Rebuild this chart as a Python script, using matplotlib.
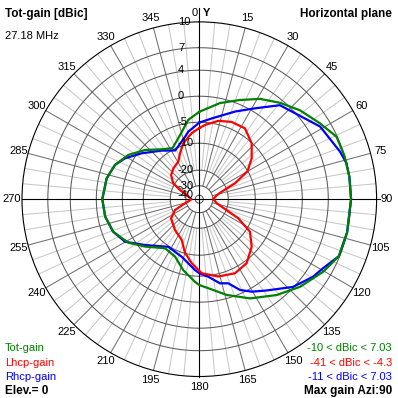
import numpy as np
import matplotlib
matplotlib.use("Agg")
import matplotlib.pyplot as plt
from matplotlib.transforms import offset_copy

# ---------------- data (azimuth in degrees, gain in dBic) ----------------
tot_az = [0, 12.1, 22.3, 31.2, 40, 48.5, 57.8, 65.5, 73.3, 81.6, 90, 102.7, 112.2,
          120.3, 131, 141.1, 152.9, 164, 174.2, 180, 183, 192.7, 202.9, 214.9, 228.8,
          238.5, 249.3, 259.5, 270, 282.7, 292.1, 301.9, 312.2, 323, 332.3, 343.3,
          352.1, 360]
tot_db = [-3.0, -0.9, 0.65, 2.2, 3.5, 4.7, 5.8, 6.9, 7.0, 7.03, 7.03, 7.0, 6.9,
          5.95, 4.6, 3.1, 1.3, -0.65, -2.6, -3.3, -3.9, -6.0, -8.5, -9.1, -6.2,
          -3.8, -2.1, -1.4, -1.15, -1.55, -2.3, -3.7, -5.9, -8.45, -9.6, -7.4,
          -4.4, -3.0]

lhcp_az = [0, 4.4, 13.6, 22.7, 32.8, 43.1, 52, 59.9, 66, 71.5, 76.7, 89.2, 103.3,
           108.5, 116.1, 122.7, 132.2, 143.5, 154.3, 166.2, 178.1, 186.8, 195.2,
           203.3, 218.3, 235.9, 246, 254, 259, 270, 289.5, 295.5, 301.4, 310.5,
           320.1, 330.8, 337.2, 344, 353.4, 360]
lhcp_db = [-6.4, -5.6, -4.3, -3.7, -3.6, -5.1, -7.5, -10.1, -16.3, -23.5, -27.0,
           -29.7, -27.1, -23.5, -14.7, -9.0, -6.5, -4.5, -4.0, -4.5, -5.7, -8.0,
           -10.3, -14.3, -16.2, -18.1, -21.5, -29.1, -32.6, -36.0, -29.6, -24.8,
           -19.4, -17.0, -15.8, -14.8, -12.3, -9.5, -7.5, -6.4]

rhcp_az = [0, 8.7, 22.2, 31.5, 40.6, 59, 71.3, 76.2, 81.6, 90, 102.7, 112.2, 119.1,
           124.3, 133.1, 143.6, 150.5, 155.9, 161, 166.2, 173.4, 180, 183.5, 197,
           213.1, 229.9, 240.2, 249.3, 259.5, 270, 282.7, 292.1, 298.8, 308.6,
           322.2, 333.7, 347.1, 350.7, 360]
rhcp_db = [-5.1, -4.1, -1.6, 0.55, 3.2, 5.6, 6.6, 7.0, 7.03, 7.03, 7.0, 6.9, 5.7,
           5.15, 3.9, 1.6, 0.5, -0.7, -2.7, -3.15, -4.8, -5.7, -6.45, -9.0, -9.8,
           -6.4, -3.35, -2.1, -1.4, -1.15, -1.55, -2.3, -3.5, -5.8, -8.7, -10.6,
           -8.1, -7.05, -5.1]

ring_values = [7, 4, 0, -5, -10, -20, -30, -40]
ring_labels = ["10", "7", "4", "0", "-5", "-10", "-20", "-30", "-40"]
ring_label_values = [10, 7, 4, 0, -5, -10, -20, -30, -40]
angle_ticks = list(range(0, 360, 15))

series_names = ["Tot-gain", "Lhcp-gain", "Rhcp-gain"]
series_ranges = ["-10 < dBic < 7.03", "-41 < dBic < -4.3", "-11 < dBic < 7.03"]

# ---------------- radial (ARRL-like) scale ----------------
SCALE_DB = [-45, -40, -30, -20, -10, -5, 0, 4, 7, 10]
SCALE_PX = [0, 4, 13.5, 29, 56, 77, 103, 129, 151.5, 177.3]


def fwd(d):
    return np.interp(d, SCALE_DB, SCALE_PX)


def inv(r):
    return np.interp(r, SCALE_PX, SCALE_DB)


GREEN, RED, BLUE = "#008000", "#ff0000", "#0000ff"
W = H = 398
CX, CY, R = 199.3, 199.2, 177.3

plt.rcParams["font.family"] = ["Liberation Sans", "DejaVu Sans"]
fig = plt.figure(figsize=(W / 100, H / 100), dpi=100)
fig.patch.set_facecolor("white")
ax = fig.add_axes([(CX - R) / W, (H - CY - R) / H, 2 * R / W, 2 * R / H],
                  projection="polar")
ax.set_rscale("function", functions=(fwd, inv))
ax.set_theta_zero_location("N")
ax.set_theta_direction(-1)
ax.grid(False)
ax.set_xticks([])
ax.set_yticks([])
ax.spines["polar"].set_color("black")
ax.spines["polar"].set_linewidth(0.8)

# rings
th = np.linspace(0, 2 * np.pi, 1441)
for v in ring_values:
    ax.plot(th, np.full_like(th, v), color="#5a5a5a", lw=0.75, zorder=2)

# radial lines
for a in range(0, 360, 5):
    if a % 90 == 0:
        continue
    t = np.deg2rad(a)
    if a % 15 == 0:
        ax.plot([t, t], [-30, 10], color="#707070", lw=0.75, zorder=1.5)
    else:
        ax.plot([t, t], [-20, 10], color="#c8c8c8", lw=0.75, zorder=1)

# main axis lines (black)
ax.plot([0.5, 0.5], [0.0, 0.5 + (CY - 8) / (2 * R)], transform=ax.transAxes,
        color="black", lw=0.8, clip_on=False, zorder=3)
ax.plot([0.0, 0.5 + (380 - CX) / (2 * R)], [0.5, 0.5], transform=ax.transAxes,
        color="black", lw=0.8, clip_on=False, zorder=3)

# curves
ax.plot(np.deg2rad(rhcp_az), rhcp_db, color=BLUE, lw=1.6, zorder=5)
ax.plot(np.deg2rad(tot_az), tot_db, color=GREEN, lw=1.6, zorder=6)
ax.plot(np.deg2rad(lhcp_az), lhcp_db, color=RED, lw=1.6, zorder=7)
ax.set_rlim(-45, 10)

FS = 8
# ring labels
for lab, v in zip(ring_labels, ring_label_values):
    tr = offset_copy(ax.transData, fig=fig, x=-21.3, y=0, units="dots")
    ax.text(0, v, lab, transform=tr, ha="left", va="center", fontsize=FS,
            zorder=8, clip_on=False)

# angle labels
OFF = 10
for a in angle_ticks:
    t = np.deg2rad(a)
    if a == 0:
        tr = offset_copy(ax.transData, fig=fig, x=-4.5, y=(CY - 13) - R, units="dots")
        ax.text(t, 10, "0", transform=tr, ha="center", va="center", fontsize=FS,
                clip_on=False)
        tr = offset_copy(ax.transData, fig=fig, x=7.5, y=(CY - 13) - R, units="dots")
        ax.text(t, 10, "Y", transform=tr, ha="center", va="center", fontsize=FS,
                fontweight="bold", clip_on=False)
        continue
    tr = offset_copy(ax.transData, fig=fig, x=OFF * np.sin(t), y=OFF * np.cos(t),
                     units="dots")
    ax.text(t, 10, str(a), transform=tr, ha="center", va="center", fontsize=FS,
            clip_on=False)


def ftext(x, y, s, **kw):
    fig.text(x / W, 1 - y / H, s, va="baseline", **kw)


ftext(5, 17, "Tot-gain [dBic]", fontsize=8.5, fontweight="bold")
ftext(5, 39, "27.18 MHz", fontsize=FS)
ftext(392, 17, "Horizontal plane", fontsize=8.5, fontweight="bold", ha="right")

for name, rng, col, y in zip(series_names, series_ranges, [GREEN, RED, BLUE],
                             [350.7, 365.5, 379.5]):
    ftext(5, y, name, fontsize=FS, color=col)
    ftext(392, y, rng, fontsize=FS, color=col, ha="right")
ftext(5, 394, "Elev.= 0", fontsize=8.5, fontweight="bold")
ftext(392, 394, "Max gain Azi:90", fontsize=8.5, fontweight="bold", ha="right")

fig.savefig("out.png", dpi=100, facecolor="white")
